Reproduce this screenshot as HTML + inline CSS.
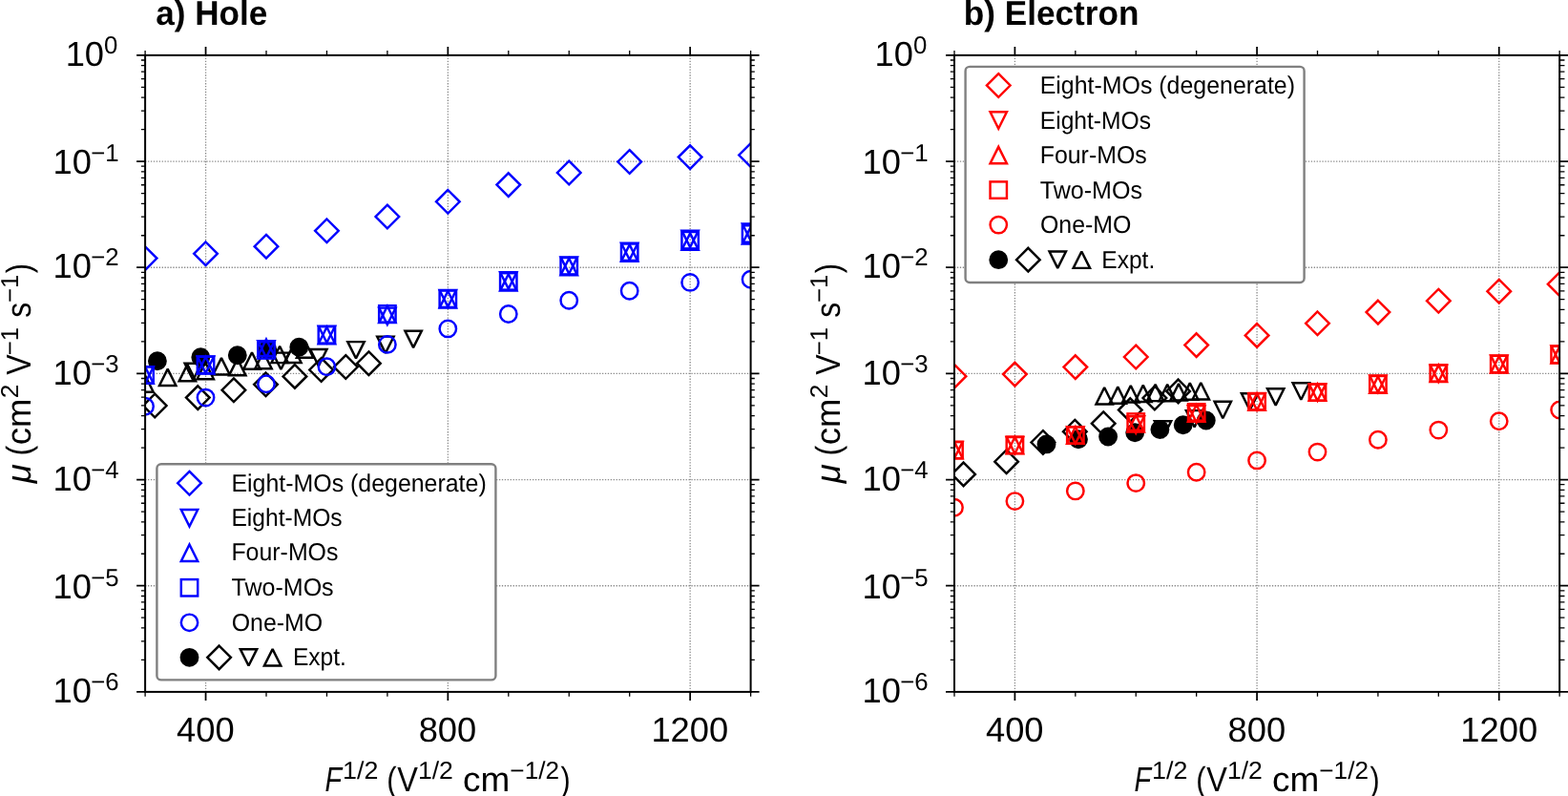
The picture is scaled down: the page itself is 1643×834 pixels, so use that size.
<!DOCTYPE html>
<html lang="en"><head><meta charset="utf-8"><title>Mobility versus field: hole and electron</title>
<style>html,body{margin:0;padding:0;background:#fff;overflow:hidden}svg{display:block}text{font-family:"Liberation Sans", "DejaVu Sans", sans-serif;fill:#000;text-rendering:geometricPrecision}.b{font-weight:bold}.i{font-style:italic}</style></head><body>
<svg width="1643" height="834" viewBox="0 0 1643 834">
<rect x="0" y="0" width="1643" height="834" fill="#fff"/>
<defs>
<clipPath id="c0"><rect x="152.1" y="57.9" width="634.5" height="667"/></clipPath>
<clipPath id="c1"><rect x="1000" y="57.9" width="634.15" height="667"/></clipPath>
</defs>
<g id="panel0">
<path d="M215.55 57.9V724.9M469.35 57.9V724.9M723.15 57.9V724.9M152.1 169.07H786.6M152.1 280.23H786.6M152.1 391.4H786.6M152.1 502.57H786.6M152.1 613.73H786.6" fill="none" stroke="#888888" stroke-width="1.3" stroke-dasharray="1.3 1.62" stroke-dashoffset="0"/>
<g clip-path="url(#c0)" stroke-width="2.45" stroke-linejoin="miter" stroke-miterlimit="10">
<circle cx="164.9" cy="378.2" r="8.7" fill="#000" stroke="#000"/>
<circle cx="210.3" cy="374.2" r="8.7" fill="#000" stroke="#000"/>
<circle cx="248.8" cy="372.2" r="8.7" fill="#000" stroke="#000"/>
<circle cx="280.3" cy="366.2" r="8.7" fill="#000" stroke="#000"/>
<circle cx="313.3" cy="363.8" r="8.7" fill="#000" stroke="#000"/>
<path d="M162.2 412.7L174.5 425L162.2 437.3L149.9 425Z" fill="none" stroke="#000" stroke-miterlimit="2"/>
<path d="M207.3 404.3L219.6 416.6L207.3 428.9L195 416.6Z" fill="none" stroke="#000" stroke-miterlimit="2"/>
<path d="M244.9 396.4L257.2 408.7L244.9 421L232.6 408.7Z" fill="none" stroke="#000" stroke-miterlimit="2"/>
<path d="M278.5 390.5L290.8 402.8L278.5 415.1L266.2 402.8Z" fill="none" stroke="#000" stroke-miterlimit="2"/>
<path d="M308.9 382.1L321.2 394.4L308.9 406.7L296.6 394.4Z" fill="none" stroke="#000" stroke-miterlimit="2"/>
<path d="M336.6 375.2L348.9 387.5L336.6 399.8L324.3 387.5Z" fill="none" stroke="#000" stroke-miterlimit="2"/>
<path d="M362.3 372.2L374.6 384.5L362.3 396.8L350 384.5Z" fill="none" stroke="#000" stroke-miterlimit="2"/>
<path d="M386.4 368.4L398.7 380.7L386.4 393L374.1 380.7Z" fill="none" stroke="#000" stroke-miterlimit="2"/>
<path d="M202.3 398.2L211 380.8L193.6 380.8Z" fill="none" stroke="#000" stroke-miterlimit="2"/>
<path d="M294.4 387L303.1 369.6L285.7 369.6Z" fill="none" stroke="#000" stroke-miterlimit="2"/>
<path d="M333.8 383.4L342.5 366L325.1 366Z" fill="none" stroke="#000" stroke-miterlimit="2"/>
<path d="M373 375.5L381.7 358.1L364.3 358.1Z" fill="none" stroke="#000" stroke-miterlimit="2"/>
<path d="M403.9 370L412.6 352.6L395.2 352.6Z" fill="none" stroke="#000" stroke-miterlimit="2"/>
<path d="M433.1 364.1L441.8 346.7L424.4 346.7Z" fill="none" stroke="#000" stroke-miterlimit="2"/>
<path d="M152 393.3L160.7 410.7L143.3 410.7Z" fill="none" stroke="#000" stroke-miterlimit="2"/>
<path d="M175.7 386.6L184.4 404L167 404Z" fill="none" stroke="#000" stroke-miterlimit="2"/>
<path d="M196.4 381.8L205.1 399.2L187.7 399.2Z" fill="none" stroke="#000" stroke-miterlimit="2"/>
<path d="M215.2 379.8L223.9 397.2L206.5 397.2Z" fill="none" stroke="#000" stroke-miterlimit="2"/>
<path d="M232 375.1L240.7 392.5L223.3 392.5Z" fill="none" stroke="#000" stroke-miterlimit="2"/>
<path d="M248.8 375.9L257.5 393.3L240.1 393.3Z" fill="none" stroke="#000" stroke-miterlimit="2"/>
<path d="M264 369.3L272.7 386.7L255.3 386.7Z" fill="none" stroke="#000" stroke-miterlimit="2"/>
<path d="M276 368.8L284.7 386.2L267.3 386.2Z" fill="none" stroke="#000" stroke-miterlimit="2"/>
<path d="M293.1 362.7L301.8 380.1L284.4 380.1Z" fill="none" stroke="#000" stroke-miterlimit="2"/>
<path d="M306.9 362.6L315.6 380L298.2 380Z" fill="none" stroke="#000" stroke-miterlimit="2"/>
<path d="M319.6 357.3L328.3 374.7L310.9 374.7Z" fill="none" stroke="#000" stroke-miterlimit="2"/>
<path d="M152.07 258.3L164.37 270.6L152.07 282.9L139.77 270.6Z" fill="none" stroke="#0000ff"/>
<path d="M215.52 253.5L227.82 265.8L215.52 278.1L203.22 265.8Z" fill="none" stroke="#0000ff"/>
<path d="M278.97 245.9L291.27 258.2L278.97 270.5L266.67 258.2Z" fill="none" stroke="#0000ff"/>
<path d="M342.42 229.5L354.72 241.8L342.42 254.1L330.12 241.8Z" fill="none" stroke="#0000ff"/>
<path d="M405.87 214.7L418.17 227L405.87 239.3L393.57 227Z" fill="none" stroke="#0000ff"/>
<path d="M469.32 199L481.62 211.3L469.32 223.6L457.02 211.3Z" fill="none" stroke="#0000ff"/>
<path d="M532.77 181.3L545.07 193.6L532.77 205.9L520.47 193.6Z" fill="none" stroke="#0000ff"/>
<path d="M596.22 168.7L608.52 181L596.22 193.3L583.92 181Z" fill="none" stroke="#0000ff"/>
<path d="M659.67 157.2L671.97 169.5L659.67 181.8L647.37 169.5Z" fill="none" stroke="#0000ff"/>
<path d="M723.12 152.3L735.42 164.6L723.12 176.9L710.82 164.6Z" fill="none" stroke="#0000ff"/>
<path d="M786.57 150.2L798.87 162.5L786.57 174.8L774.27 162.5Z" fill="none" stroke="#0000ff"/>
<path d="M152.07 401.7L160.77 384.3L143.37 384.3Z" fill="none" stroke="#0000ff"/>
<path d="M215.52 390.8L224.22 373.4L206.82 373.4Z" fill="none" stroke="#0000ff"/>
<path d="M278.97 374.6L287.67 357.2L270.27 357.2Z" fill="none" stroke="#0000ff"/>
<path d="M342.42 359L351.12 341.6L333.72 341.6Z" fill="none" stroke="#0000ff"/>
<path d="M405.87 340L414.57 322.6L397.17 322.6Z" fill="none" stroke="#0000ff"/>
<path d="M469.32 321.4L478.02 304L460.62 304Z" fill="none" stroke="#0000ff"/>
<path d="M532.77 302.6L541.47 285.2L524.07 285.2Z" fill="none" stroke="#0000ff"/>
<path d="M596.22 286.8L604.92 269.4L587.52 269.4Z" fill="none" stroke="#0000ff"/>
<path d="M659.67 272.1L668.37 254.7L650.97 254.7Z" fill="none" stroke="#0000ff"/>
<path d="M723.12 259L731.82 241.6L714.42 241.6Z" fill="none" stroke="#0000ff"/>
<path d="M786.57 251.9L795.27 234.5L777.87 234.5Z" fill="none" stroke="#0000ff"/>
<path d="M152.07 384.3L160.77 401.7L143.37 401.7Z" fill="none" stroke="#0000ff"/>
<path d="M215.52 374L224.22 391.4L206.82 391.4Z" fill="none" stroke="#0000ff"/>
<path d="M278.97 355.5L287.67 372.9L270.27 372.9Z" fill="none" stroke="#0000ff"/>
<path d="M342.42 342.8L351.12 360.2L333.72 360.2Z" fill="none" stroke="#0000ff"/>
<path d="M405.87 320.7L414.57 338.1L397.17 338.1Z" fill="none" stroke="#0000ff"/>
<path d="M469.32 305L478.02 322.4L460.62 322.4Z" fill="none" stroke="#0000ff"/>
<path d="M532.77 287.2L541.47 304.6L524.07 304.6Z" fill="none" stroke="#0000ff"/>
<path d="M596.22 270.8L604.92 288.2L587.52 288.2Z" fill="none" stroke="#0000ff"/>
<path d="M659.67 256.4L668.37 273.8L650.97 273.8Z" fill="none" stroke="#0000ff"/>
<path d="M723.12 244.4L731.82 261.8L714.42 261.8Z" fill="none" stroke="#0000ff"/>
<path d="M786.57 238L795.27 255.4L777.87 255.4Z" fill="none" stroke="#0000ff"/>
<rect x="143.37" y="384.3" width="17.4" height="17.4" fill="none" stroke="#0000ff"/>
<rect x="206.82" y="373.7" width="17.4" height="17.4" fill="none" stroke="#0000ff"/>
<rect x="270.27" y="358.2" width="17.4" height="17.4" fill="none" stroke="#0000ff"/>
<rect x="333.72" y="342.2" width="17.4" height="17.4" fill="none" stroke="#0000ff"/>
<rect x="397.17" y="320.2" width="17.4" height="17.4" fill="none" stroke="#0000ff"/>
<rect x="460.62" y="304.5" width="17.4" height="17.4" fill="none" stroke="#0000ff"/>
<rect x="524.07" y="286.2" width="17.4" height="17.4" fill="none" stroke="#0000ff"/>
<rect x="587.52" y="270" width="17.4" height="17.4" fill="none" stroke="#0000ff"/>
<rect x="650.97" y="255.5" width="17.4" height="17.4" fill="none" stroke="#0000ff"/>
<rect x="714.42" y="243" width="17.4" height="17.4" fill="none" stroke="#0000ff"/>
<rect x="777.87" y="236.3" width="17.4" height="17.4" fill="none" stroke="#0000ff"/>
<circle cx="152.07" cy="425.7" r="8.7" fill="none" stroke="#0000ff"/>
<circle cx="215.52" cy="416.6" r="8.7" fill="none" stroke="#0000ff"/>
<circle cx="278.97" cy="402.3" r="8.7" fill="none" stroke="#0000ff"/>
<circle cx="342.42" cy="384.2" r="8.7" fill="none" stroke="#0000ff"/>
<circle cx="405.87" cy="360.9" r="8.7" fill="none" stroke="#0000ff"/>
<circle cx="469.32" cy="344.4" r="8.7" fill="none" stroke="#0000ff"/>
<circle cx="532.77" cy="329" r="8.7" fill="none" stroke="#0000ff"/>
<circle cx="596.22" cy="314.7" r="8.7" fill="none" stroke="#0000ff"/>
<circle cx="659.67" cy="304.7" r="8.7" fill="none" stroke="#0000ff"/>
<circle cx="723.12" cy="295.9" r="8.7" fill="none" stroke="#0000ff"/>
<circle cx="786.57" cy="292.7" r="8.7" fill="none" stroke="#0000ff"/>
</g>
<path d="M215.55 724.9v9M215.55 57.9v-9M469.35 724.9v9M469.35 57.9v-9M723.15 724.9v9M723.15 57.9v-9M152.1 57.9h-9M786.6 57.9h9M152.1 169.07h-9M786.6 169.07h9M152.1 280.23h-9M786.6 280.23h9M152.1 391.4h-9M786.6 391.4h9M152.1 502.57h-9M786.6 502.57h9M152.1 613.73h-9M786.6 613.73h9M152.1 724.9h-9M786.6 724.9h9" fill="none" stroke="#000" stroke-width="1.75"/>
<path d="M152.1 724.9v4.8M152.1 57.9v-4.8M279 724.9v4.8M279 57.9v-4.8M342.45 724.9v4.8M342.45 57.9v-4.8M405.9 724.9v4.8M405.9 57.9v-4.8M532.8 724.9v4.8M532.8 57.9v-4.8M596.25 724.9v4.8M596.25 57.9v-4.8M659.7 724.9v4.8M659.7 57.9v-4.8M786.6 724.9v4.8M786.6 57.9v-4.8M152.1 135.6h-4.2M786.6 135.6h4.2M152.1 116.03h-4.2M786.6 116.03h4.2M152.1 102.14h-4.2M786.6 102.14h4.2M152.1 91.36h-4.2M786.6 91.36h4.2M152.1 82.56h-4.2M786.6 82.56h4.2M152.1 75.12h-4.2M786.6 75.12h4.2M152.1 68.67h-4.2M786.6 68.67h4.2M152.1 62.99h-4.2M786.6 62.99h4.2M152.1 246.77h-4.2M786.6 246.77h4.2M152.1 227.19h-4.2M786.6 227.19h4.2M152.1 213.3h-4.2M786.6 213.3h4.2M152.1 202.53h-4.2M786.6 202.53h4.2M152.1 193.73h-4.2M786.6 193.73h4.2M152.1 186.29h-4.2M786.6 186.29h4.2M152.1 179.84h-4.2M786.6 179.84h4.2M152.1 174.15h-4.2M786.6 174.15h4.2M152.1 357.94h-4.2M786.6 357.94h4.2M152.1 338.36h-4.2M786.6 338.36h4.2M152.1 324.47h-4.2M786.6 324.47h4.2M152.1 313.7h-4.2M786.6 313.7h4.2M152.1 304.9h-4.2M786.6 304.9h4.2M152.1 297.45h-4.2M786.6 297.45h4.2M152.1 291.01h-4.2M786.6 291.01h4.2M152.1 285.32h-4.2M786.6 285.32h4.2M152.1 469.1h-4.2M786.6 469.1h4.2M152.1 449.53h-4.2M786.6 449.53h4.2M152.1 435.64h-4.2M786.6 435.64h4.2M152.1 424.86h-4.2M786.6 424.86h4.2M152.1 416.06h-4.2M786.6 416.06h4.2M152.1 408.62h-4.2M786.6 408.62h4.2M152.1 402.17h-4.2M786.6 402.17h4.2M152.1 396.49h-4.2M786.6 396.49h4.2M152.1 580.27h-4.2M786.6 580.27h4.2M152.1 560.69h-4.2M786.6 560.69h4.2M152.1 546.8h-4.2M786.6 546.8h4.2M152.1 536.03h-4.2M786.6 536.03h4.2M152.1 527.23h-4.2M786.6 527.23h4.2M152.1 519.79h-4.2M786.6 519.79h4.2M152.1 513.34h-4.2M786.6 513.34h4.2M152.1 507.65h-4.2M786.6 507.65h4.2M152.1 691.44h-4.2M786.6 691.44h4.2M152.1 671.86h-4.2M786.6 671.86h4.2M152.1 657.97h-4.2M786.6 657.97h4.2M152.1 647.2h-4.2M786.6 647.2h4.2M152.1 638.4h-4.2M786.6 638.4h4.2M152.1 630.95h-4.2M786.6 630.95h4.2M152.1 624.51h-4.2M786.6 624.51h4.2M152.1 618.82h-4.2M786.6 618.82h4.2" fill="none" stroke="#000" stroke-width="1.3"/>
<rect x="152.1" y="57.9" width="634.5" height="667" fill="none" stroke="#000" stroke-width="2"/>
<g id="legend0">
<rect x="164.4" y="486.3" width="355" height="226.1" rx="4.5" ry="4.5" fill="#fff" stroke="#808080" stroke-width="2.4"/>
<g stroke-width="2.45" stroke-linejoin="miter" stroke-miterlimit="10">
<path d="M198.5 493.9L210.8 506.2L198.5 518.5L186.2 506.2Z" fill="none" stroke="#0000ff"/>
<path d="M198.5 551.43L207.2 534.03L189.8 534.03Z" fill="none" stroke="#0000ff"/>
<path d="M198.5 570.56L207.2 587.96L189.8 587.96Z" fill="none" stroke="#0000ff"/>
<rect x="189.8" y="607.09" width="17.4" height="17.4" fill="none" stroke="#0000ff"/>
<circle cx="198.5" cy="652.32" r="8.7" fill="none" stroke="#0000ff"/>
<circle cx="198.5" cy="688.85" r="8.7" fill="#000" stroke="#000"/>
<path d="M229.6 676.55L241.9 688.85L229.6 701.15L217.3 688.85Z" fill="none" stroke="#000" stroke-miterlimit="2"/>
<path d="M260.5 697.55L269.2 680.15L251.8 680.15Z" fill="none" stroke="#000" stroke-miterlimit="2"/>
<path d="M285.6 680.15L294.3 697.55L276.9 697.55Z" fill="none" stroke="#000" stroke-miterlimit="2"/>
</g>
<text x="242.42" y="515" font-size="25.9" textLength="267.28" lengthAdjust="spacingAndGlyphs">Eight-MOs (degenerate)</text>
<text x="242.45" y="551" font-size="25.9" textLength="116.25" lengthAdjust="spacingAndGlyphs">Eight-MOs</text>
<text x="242.43" y="587" font-size="25.9" textLength="111.99" lengthAdjust="spacingAndGlyphs">Four-MOs</text>
<text x="242.52" y="624" font-size="25.9" textLength="107.13" lengthAdjust="spacingAndGlyphs">Two-MOs</text>
<text x="242.74" y="661" font-size="25.9" textLength="95.34" lengthAdjust="spacingAndGlyphs">One-MO</text>
<text x="306.95" y="697" font-size="25.9" textLength="56.01" lengthAdjust="spacingAndGlyphs">Expt.</text>
</g>
<text x="163.3" y="26" font-size="36" class="b" textLength="117" lengthAdjust="spacingAndGlyphs">a) Hole</text>
<text><tspan x="68.64" y="69" font-size="36.3">10</tspan><tspan x="108.97" y="56" font-size="25.8">0</tspan></text>
<text><tspan x="55.54" y="182" font-size="36.3">10</tspan><tspan x="95.2" y="169" font-size="25.8">−1</tspan></text>
<text><tspan x="55.54" y="291" font-size="36.3">10</tspan><tspan x="95.2" y="278" font-size="25.8">−2</tspan></text>
<text><tspan x="55.54" y="403" font-size="36.3">10</tspan><tspan x="95.2" y="390" font-size="25.8">−3</tspan></text>
<text><tspan x="55.54" y="514" font-size="36.3">10</tspan><tspan x="95.2" y="501" font-size="25.8">−4</tspan></text>
<text><tspan x="55.54" y="627" font-size="36.3">10</tspan><tspan x="95.2" y="614" font-size="25.8">−5</tspan></text>
<text><tspan x="55.54" y="736" font-size="36.3">10</tspan><tspan x="95.2" y="723" font-size="25.8">−6</tspan></text>
<text x="185.03" y="777" font-size="36.3">400</text>
<text x="438.63" y="777" font-size="36.3">800</text>
<text x="682.42" y="777" font-size="36.3">1200</text>
<text><tspan x="340.54" y="829" font-size="36.2" class="i" textLength="17.55" lengthAdjust="spacingAndGlyphs">F</tspan><tspan x="359.14" y="816" font-size="25.8" textLength="37.3" lengthAdjust="spacingAndGlyphs">1/2</tspan><tspan x="405.33" y="829" font-size="36.2" textLength="10.37" lengthAdjust="spacingAndGlyphs">(</tspan><tspan x="416.18" y="829" font-size="36.2" textLength="21.64" lengthAdjust="spacingAndGlyphs">V</tspan><tspan x="437.96" y="816" font-size="25.8" textLength="36.97" lengthAdjust="spacingAndGlyphs">1/2</tspan><tspan x="485.1" y="829" font-size="36.2" textLength="49.25" lengthAdjust="spacingAndGlyphs">cm</tspan><tspan x="534.39" y="816" font-size="25.8" textLength="51.64" lengthAdjust="spacingAndGlyphs">−1/2</tspan><tspan x="587.5" y="829" font-size="36.2" textLength="10.12" lengthAdjust="spacingAndGlyphs">)</tspan></text>
<g transform="translate(32 510) rotate(-90)"><text><tspan x="3.73" y="0" font-size="36.2" class="i" textLength="20.02" lengthAdjust="spacingAndGlyphs">μ</tspan><tspan x="32.38" y="0" font-size="36.2" textLength="10.62" lengthAdjust="spacingAndGlyphs">(</tspan><tspan x="43.82" y="0" font-size="36.2" textLength="48.6" lengthAdjust="spacingAndGlyphs">cm</tspan><tspan x="92.79" y="-13" font-size="25.8" textLength="14.62" lengthAdjust="spacingAndGlyphs">2</tspan><tspan x="117.19" y="0" font-size="36.2" textLength="21.44" lengthAdjust="spacingAndGlyphs">V</tspan><tspan x="137.81" y="-13" font-size="25.8">−1</tspan><tspan x="177.24" y="0" font-size="36.2" textLength="15.92" lengthAdjust="spacingAndGlyphs">s</tspan><tspan x="193.01" y="-13" font-size="25.8">−1</tspan><tspan x="223.69" y="0" font-size="36.2" textLength="10.24" lengthAdjust="spacingAndGlyphs">)</tspan></text></g>
</g>
<g id="panel1">
<path d="M1063.41 57.9V724.9M1317.08 57.9V724.9M1570.74 57.9V724.9M1000 169.07H1634.15M1000 280.23H1634.15M1000 391.4H1634.15M1000 502.57H1634.15M1000 613.73H1634.15" fill="none" stroke="#888888" stroke-width="1.3" stroke-dasharray="1.3 1.62" stroke-dashoffset="0"/>
<g clip-path="url(#c1)" stroke-width="2.45" stroke-linejoin="miter" stroke-miterlimit="10">
<circle cx="1096.5" cy="465.4" r="8.7" fill="#000" stroke="#000"/>
<circle cx="1130" cy="460.3" r="8.7" fill="#000" stroke="#000"/>
<circle cx="1161.1" cy="457.5" r="8.7" fill="#000" stroke="#000"/>
<circle cx="1189.2" cy="453.3" r="8.7" fill="#000" stroke="#000"/>
<circle cx="1215.4" cy="450.1" r="8.7" fill="#000" stroke="#000"/>
<circle cx="1239.7" cy="445.2" r="8.7" fill="#000" stroke="#000"/>
<circle cx="1263.8" cy="440.5" r="8.7" fill="#000" stroke="#000"/>
<path d="M1009.6 484.6L1021.9 496.9L1009.6 509.2L997.3 496.9Z" fill="none" stroke="#000" stroke-miterlimit="2"/>
<path d="M1054.6 471.4L1066.9 483.7L1054.6 496L1042.3 483.7Z" fill="none" stroke="#000" stroke-miterlimit="2"/>
<path d="M1092.9 451.2L1105.2 463.5L1092.9 475.8L1080.6 463.5Z" fill="none" stroke="#000" stroke-miterlimit="2"/>
<path d="M1126.3 439.9L1138.6 452.2L1126.3 464.5L1114 452.2Z" fill="none" stroke="#000" stroke-miterlimit="2"/>
<path d="M1156.2 431.4L1168.5 443.7L1156.2 456L1143.9 443.7Z" fill="none" stroke="#000" stroke-miterlimit="2"/>
<path d="M1184.3 417.3L1196.6 429.6L1184.3 441.9L1172 429.6Z" fill="none" stroke="#000" stroke-miterlimit="2"/>
<path d="M1209.9 404.7L1222.2 417L1209.9 429.3L1197.6 417Z" fill="none" stroke="#000" stroke-miterlimit="2"/>
<path d="M1234.6 397.6L1246.9 409.9L1234.6 422.2L1222.3 409.9Z" fill="none" stroke="#000" stroke-miterlimit="2"/>
<path d="M1218.5 458.7L1227.2 441.3L1209.8 441.3Z" fill="none" stroke="#000" stroke-miterlimit="2"/>
<path d="M1251.6 447.5L1260.3 430.1L1242.9 430.1Z" fill="none" stroke="#000" stroke-miterlimit="2"/>
<path d="M1281.3 438.2L1290 420.8L1272.6 420.8Z" fill="none" stroke="#000" stroke-miterlimit="2"/>
<path d="M1309.6 429.7L1318.3 412.3L1300.9 412.3Z" fill="none" stroke="#000" stroke-miterlimit="2"/>
<path d="M1336.7 424.6L1345.4 407.2L1328 407.2Z" fill="none" stroke="#000" stroke-miterlimit="2"/>
<path d="M1363.3 418.7L1372 401.3L1354.6 401.3Z" fill="none" stroke="#000" stroke-miterlimit="2"/>
<path d="M1157.2 406L1165.9 423.4L1148.5 423.4Z" fill="none" stroke="#000" stroke-miterlimit="2"/>
<path d="M1171.3 405.4L1180 422.8L1162.6 422.8Z" fill="none" stroke="#000" stroke-miterlimit="2"/>
<path d="M1184.8 404L1193.5 421.4L1176.1 421.4Z" fill="none" stroke="#000" stroke-miterlimit="2"/>
<path d="M1197.8 403.6L1206.5 421L1189.1 421Z" fill="none" stroke="#000" stroke-miterlimit="2"/>
<path d="M1210.6 402.7L1219.3 420.1L1201.9 420.1Z" fill="none" stroke="#000" stroke-miterlimit="2"/>
<path d="M1223.2 402.9L1231.9 420.3L1214.5 420.3Z" fill="none" stroke="#000" stroke-miterlimit="2"/>
<path d="M1235 402.1L1243.7 419.5L1226.3 419.5Z" fill="none" stroke="#000" stroke-miterlimit="2"/>
<path d="M1246.8 401.4L1255.5 418.8L1238.1 418.8Z" fill="none" stroke="#000" stroke-miterlimit="2"/>
<path d="M1258.3 401L1267 418.4L1249.6 418.4Z" fill="none" stroke="#000" stroke-miterlimit="2"/>
<path d="M1000 381.9L1012.3 394.2L1000 406.5L987.7 394.2Z" fill="none" stroke="#ff0000"/>
<path d="M1063.41 379.8L1075.72 392.1L1063.41 404.4L1051.11 392.1Z" fill="none" stroke="#ff0000"/>
<path d="M1126.83 372.3L1139.13 384.6L1126.83 396.9L1114.53 384.6Z" fill="none" stroke="#ff0000"/>
<path d="M1190.24 361.7L1202.55 374L1190.24 386.3L1177.94 374Z" fill="none" stroke="#ff0000"/>
<path d="M1253.66 349.3L1265.96 361.6L1253.66 373.9L1241.36 361.6Z" fill="none" stroke="#ff0000"/>
<path d="M1317.08 339.1L1329.38 351.4L1317.08 363.7L1304.77 351.4Z" fill="none" stroke="#ff0000"/>
<path d="M1380.49 326.5L1392.79 338.8L1380.49 351.1L1368.19 338.8Z" fill="none" stroke="#ff0000"/>
<path d="M1443.9 314.8L1456.21 327.1L1443.9 339.4L1431.6 327.1Z" fill="none" stroke="#ff0000"/>
<path d="M1507.32 302.9L1519.62 315.2L1507.32 327.5L1495.02 315.2Z" fill="none" stroke="#ff0000"/>
<path d="M1570.74 292.9L1583.04 305.2L1570.74 317.5L1558.43 305.2Z" fill="none" stroke="#ff0000"/>
<path d="M1634.15 285.4L1646.45 297.7L1634.15 310L1621.85 297.7Z" fill="none" stroke="#ff0000"/>
<path d="M1000 480.3L1008.7 462.9L991.3 462.9Z" fill="none" stroke="#ff0000"/>
<path d="M1063.41 475.3L1072.12 457.9L1054.71 457.9Z" fill="none" stroke="#ff0000"/>
<path d="M1126.83 464.7L1135.53 447.3L1118.13 447.3Z" fill="none" stroke="#ff0000"/>
<path d="M1190.24 453.7L1198.94 436.3L1181.54 436.3Z" fill="none" stroke="#ff0000"/>
<path d="M1253.66 442.5L1262.36 425.1L1244.96 425.1Z" fill="none" stroke="#ff0000"/>
<path d="M1317.08 429.7L1325.78 412.3L1308.38 412.3Z" fill="none" stroke="#ff0000"/>
<path d="M1380.49 419.8L1389.19 402.4L1371.79 402.4Z" fill="none" stroke="#ff0000"/>
<path d="M1443.9 410.95L1452.61 393.55L1435.2 393.55Z" fill="none" stroke="#ff0000"/>
<path d="M1507.32 400L1516.02 382.6L1498.62 382.6Z" fill="none" stroke="#ff0000"/>
<path d="M1570.74 389.8L1579.44 372.4L1562.04 372.4Z" fill="none" stroke="#ff0000"/>
<path d="M1634.15 379.9L1642.85 362.5L1625.45 362.5Z" fill="none" stroke="#ff0000"/>
<path d="M1000 462.9L1008.7 480.3L991.3 480.3Z" fill="none" stroke="#ff0000"/>
<path d="M1063.41 457.9L1072.12 475.3L1054.71 475.3Z" fill="none" stroke="#ff0000"/>
<path d="M1126.83 447.3L1135.53 464.7L1118.13 464.7Z" fill="none" stroke="#ff0000"/>
<path d="M1190.24 435.2L1198.94 452.6L1181.54 452.6Z" fill="none" stroke="#ff0000"/>
<path d="M1253.66 424.3L1262.36 441.7L1244.96 441.7Z" fill="none" stroke="#ff0000"/>
<path d="M1317.08 412.3L1325.78 429.7L1308.38 429.7Z" fill="none" stroke="#ff0000"/>
<path d="M1380.49 402.4L1389.19 419.8L1371.79 419.8Z" fill="none" stroke="#ff0000"/>
<path d="M1443.9 394.45L1452.61 411.85L1435.2 411.85Z" fill="none" stroke="#ff0000"/>
<path d="M1507.32 382.6L1516.02 400L1498.62 400Z" fill="none" stroke="#ff0000"/>
<path d="M1570.74 373.2L1579.44 390.6L1562.04 390.6Z" fill="none" stroke="#ff0000"/>
<path d="M1634.15 363.1L1642.85 380.5L1625.45 380.5Z" fill="none" stroke="#ff0000"/>
<rect x="991.3" y="462.9" width="17.4" height="17.4" fill="none" stroke="#ff0000"/>
<rect x="1054.71" y="457.6" width="17.4" height="17.4" fill="none" stroke="#ff0000"/>
<rect x="1118.13" y="447.3" width="17.4" height="17.4" fill="none" stroke="#ff0000"/>
<rect x="1181.54" y="433.4" width="17.4" height="17.4" fill="none" stroke="#ff0000"/>
<rect x="1244.96" y="423.2" width="17.4" height="17.4" fill="none" stroke="#ff0000"/>
<rect x="1308.38" y="412" width="17.4" height="17.4" fill="none" stroke="#ff0000"/>
<rect x="1371.79" y="402.4" width="17.4" height="17.4" fill="none" stroke="#ff0000"/>
<rect x="1435.2" y="394" width="17.4" height="17.4" fill="none" stroke="#ff0000"/>
<rect x="1498.62" y="382.3" width="17.4" height="17.4" fill="none" stroke="#ff0000"/>
<rect x="1562.04" y="372.8" width="17.4" height="17.4" fill="none" stroke="#ff0000"/>
<rect x="1625.45" y="362.8" width="17.4" height="17.4" fill="none" stroke="#ff0000"/>
<circle cx="1000" cy="531.7" r="8.7" fill="none" stroke="#ff0000"/>
<circle cx="1063.41" cy="525.1" r="8.7" fill="none" stroke="#ff0000"/>
<circle cx="1126.83" cy="514.4" r="8.7" fill="none" stroke="#ff0000"/>
<circle cx="1190.24" cy="506.1" r="8.7" fill="none" stroke="#ff0000"/>
<circle cx="1253.66" cy="494.8" r="8.7" fill="none" stroke="#ff0000"/>
<circle cx="1317.08" cy="482.4" r="8.7" fill="none" stroke="#ff0000"/>
<circle cx="1380.49" cy="473.6" r="8.7" fill="none" stroke="#ff0000"/>
<circle cx="1443.9" cy="460.7" r="8.7" fill="none" stroke="#ff0000"/>
<circle cx="1507.32" cy="450.6" r="8.7" fill="none" stroke="#ff0000"/>
<circle cx="1570.74" cy="441.3" r="8.7" fill="none" stroke="#ff0000"/>
<circle cx="1634.15" cy="429.5" r="8.7" fill="none" stroke="#ff0000"/>
</g>
<path d="M1063.41 724.9v9M1063.41 57.9v-9M1317.08 724.9v9M1317.08 57.9v-9M1570.74 724.9v9M1570.74 57.9v-9M1000 57.9h-9M1634.15 57.9h9M1000 169.07h-9M1634.15 169.07h9M1000 280.23h-9M1634.15 280.23h9M1000 391.4h-9M1634.15 391.4h9M1000 502.57h-9M1634.15 502.57h9M1000 613.73h-9M1634.15 613.73h9M1000 724.9h-9M1634.15 724.9h9" fill="none" stroke="#000" stroke-width="1.75"/>
<path d="M1000 724.9v4.8M1000 57.9v-4.8M1126.83 724.9v4.8M1126.83 57.9v-4.8M1190.25 724.9v4.8M1190.25 57.9v-4.8M1253.66 724.9v4.8M1253.66 57.9v-4.8M1380.49 724.9v4.8M1380.49 57.9v-4.8M1443.91 724.9v4.8M1443.91 57.9v-4.8M1507.32 724.9v4.8M1507.32 57.9v-4.8M1634.15 724.9v4.8M1634.15 57.9v-4.8M1000 135.6h-4.2M1634.15 135.6h5.3M1000 116.03h-4.2M1634.15 116.03h5.3M1000 102.14h-4.2M1634.15 102.14h5.3M1000 91.36h-4.2M1634.15 91.36h5.3M1000 82.56h-4.2M1634.15 82.56h5.3M1000 75.12h-4.2M1634.15 75.12h5.3M1000 68.67h-4.2M1634.15 68.67h5.3M1000 62.99h-4.2M1634.15 62.99h5.3M1000 246.77h-4.2M1634.15 246.77h5.3M1000 227.19h-4.2M1634.15 227.19h5.3M1000 213.3h-4.2M1634.15 213.3h5.3M1000 202.53h-4.2M1634.15 202.53h5.3M1000 193.73h-4.2M1634.15 193.73h5.3M1000 186.29h-4.2M1634.15 186.29h5.3M1000 179.84h-4.2M1634.15 179.84h5.3M1000 174.15h-4.2M1634.15 174.15h5.3M1000 357.94h-4.2M1634.15 357.94h5.3M1000 338.36h-4.2M1634.15 338.36h5.3M1000 324.47h-4.2M1634.15 324.47h5.3M1000 313.7h-4.2M1634.15 313.7h5.3M1000 304.9h-4.2M1634.15 304.9h5.3M1000 297.45h-4.2M1634.15 297.45h5.3M1000 291.01h-4.2M1634.15 291.01h5.3M1000 285.32h-4.2M1634.15 285.32h5.3M1000 469.1h-4.2M1634.15 469.1h5.3M1000 449.53h-4.2M1634.15 449.53h5.3M1000 435.64h-4.2M1634.15 435.64h5.3M1000 424.86h-4.2M1634.15 424.86h5.3M1000 416.06h-4.2M1634.15 416.06h5.3M1000 408.62h-4.2M1634.15 408.62h5.3M1000 402.17h-4.2M1634.15 402.17h5.3M1000 396.49h-4.2M1634.15 396.49h5.3M1000 580.27h-4.2M1634.15 580.27h5.3M1000 560.69h-4.2M1634.15 560.69h5.3M1000 546.8h-4.2M1634.15 546.8h5.3M1000 536.03h-4.2M1634.15 536.03h5.3M1000 527.23h-4.2M1634.15 527.23h5.3M1000 519.79h-4.2M1634.15 519.79h5.3M1000 513.34h-4.2M1634.15 513.34h5.3M1000 507.65h-4.2M1634.15 507.65h5.3M1000 691.44h-4.2M1634.15 691.44h5.3M1000 671.86h-4.2M1634.15 671.86h5.3M1000 657.97h-4.2M1634.15 657.97h5.3M1000 647.2h-4.2M1634.15 647.2h5.3M1000 638.4h-4.2M1634.15 638.4h5.3M1000 630.95h-4.2M1634.15 630.95h5.3M1000 624.51h-4.2M1634.15 624.51h5.3M1000 618.82h-4.2M1634.15 618.82h5.3" fill="none" stroke="#000" stroke-width="1.3"/>
<rect x="1000" y="57.9" width="634.15" height="667" fill="none" stroke="#000" stroke-width="2"/>
<g id="legend1">
<rect x="1011.6" y="69.9" width="355" height="226.1" rx="4.5" ry="4.5" fill="#fff" stroke="#808080" stroke-width="2.4"/>
<g stroke-width="2.45" stroke-linejoin="miter" stroke-miterlimit="10">
<path d="M1046.25 77.2L1058.55 89.5L1046.25 101.8L1033.95 89.5Z" fill="none" stroke="#ff0000"/>
<path d="M1046.25 134.73L1054.95 117.33L1037.55 117.33Z" fill="none" stroke="#ff0000"/>
<path d="M1046.25 153.86L1054.95 171.26L1037.55 171.26Z" fill="none" stroke="#ff0000"/>
<rect x="1037.55" y="190.39" width="17.4" height="17.4" fill="none" stroke="#ff0000"/>
<circle cx="1046.25" cy="235.62" r="8.7" fill="none" stroke="#ff0000"/>
<circle cx="1046.25" cy="272.15" r="8.7" fill="#000" stroke="#000"/>
<path d="M1077.35 259.85L1089.65 272.15L1077.35 284.45L1065.05 272.15Z" fill="none" stroke="#000" stroke-miterlimit="2"/>
<path d="M1108.25 280.85L1116.95 263.45L1099.55 263.45Z" fill="none" stroke="#000" stroke-miterlimit="2"/>
<path d="M1133.35 263.45L1142.05 280.85L1124.65 280.85Z" fill="none" stroke="#000" stroke-miterlimit="2"/>
</g>
<text x="1089.72" y="98" font-size="25.9" textLength="267.28" lengthAdjust="spacingAndGlyphs">Eight-MOs (degenerate)</text>
<text x="1089.75" y="135" font-size="25.9" textLength="116.25" lengthAdjust="spacingAndGlyphs">Eight-MOs</text>
<text x="1089.73" y="171" font-size="25.9" textLength="111.99" lengthAdjust="spacingAndGlyphs">Four-MOs</text>
<text x="1089.82" y="208" font-size="25.9" textLength="107.13" lengthAdjust="spacingAndGlyphs">Two-MOs</text>
<text x="1090.04" y="244" font-size="25.9" textLength="95.34" lengthAdjust="spacingAndGlyphs">One-MO</text>
<text x="1154.25" y="281" font-size="25.9" textLength="56.01" lengthAdjust="spacingAndGlyphs">Expt.</text>
</g>
<text x="1009.71" y="26" font-size="36" class="b" textLength="183.7" lengthAdjust="spacingAndGlyphs">b) Electron</text>
<text><tspan x="916.59" y="69" font-size="36.3">10</tspan><tspan x="956.92" y="56" font-size="25.8">0</tspan></text>
<text><tspan x="903.49" y="182" font-size="36.3">10</tspan><tspan x="943.15" y="169" font-size="25.8">−1</tspan></text>
<text><tspan x="903.49" y="291" font-size="36.3">10</tspan><tspan x="943.15" y="278" font-size="25.8">−2</tspan></text>
<text><tspan x="903.49" y="403" font-size="36.3">10</tspan><tspan x="943.15" y="390" font-size="25.8">−3</tspan></text>
<text><tspan x="903.49" y="514" font-size="36.3">10</tspan><tspan x="943.15" y="501" font-size="25.8">−4</tspan></text>
<text><tspan x="903.49" y="627" font-size="36.3">10</tspan><tspan x="943.15" y="614" font-size="25.8">−5</tspan></text>
<text><tspan x="903.49" y="736" font-size="36.3">10</tspan><tspan x="943.15" y="723" font-size="25.8">−6</tspan></text>
<text x="1032.98" y="777" font-size="36.3">400</text>
<text x="1286.58" y="777" font-size="36.3">800</text>
<text x="1530.37" y="777" font-size="36.3">1200</text>
<text><tspan x="1188.49" y="829" font-size="36.2" class="i" textLength="17.55" lengthAdjust="spacingAndGlyphs">F</tspan><tspan x="1207.09" y="816" font-size="25.8" textLength="37.3" lengthAdjust="spacingAndGlyphs">1/2</tspan><tspan x="1253.28" y="829" font-size="36.2" textLength="10.37" lengthAdjust="spacingAndGlyphs">(</tspan><tspan x="1264.13" y="829" font-size="36.2" textLength="21.64" lengthAdjust="spacingAndGlyphs">V</tspan><tspan x="1285.91" y="816" font-size="25.8" textLength="36.97" lengthAdjust="spacingAndGlyphs">1/2</tspan><tspan x="1333.05" y="829" font-size="36.2" textLength="49.25" lengthAdjust="spacingAndGlyphs">cm</tspan><tspan x="1382.34" y="816" font-size="25.8" textLength="51.64" lengthAdjust="spacingAndGlyphs">−1/2</tspan><tspan x="1435.45" y="829" font-size="36.2" textLength="10.12" lengthAdjust="spacingAndGlyphs">)</tspan></text>
<g transform="translate(879.95 510) rotate(-90)"><text><tspan x="3.73" y="0" font-size="36.2" class="i" textLength="20.02" lengthAdjust="spacingAndGlyphs">μ</tspan><tspan x="32.38" y="0" font-size="36.2" textLength="10.62" lengthAdjust="spacingAndGlyphs">(</tspan><tspan x="43.82" y="0" font-size="36.2" textLength="48.6" lengthAdjust="spacingAndGlyphs">cm</tspan><tspan x="92.79" y="-13" font-size="25.8" textLength="14.62" lengthAdjust="spacingAndGlyphs">2</tspan><tspan x="117.19" y="0" font-size="36.2" textLength="21.44" lengthAdjust="spacingAndGlyphs">V</tspan><tspan x="137.81" y="-13" font-size="25.8">−1</tspan><tspan x="177.24" y="0" font-size="36.2" textLength="15.92" lengthAdjust="spacingAndGlyphs">s</tspan><tspan x="193.01" y="-13" font-size="25.8">−1</tspan><tspan x="223.69" y="0" font-size="36.2" textLength="10.24" lengthAdjust="spacingAndGlyphs">)</tspan></text></g>
</g>
</svg></body></html>
